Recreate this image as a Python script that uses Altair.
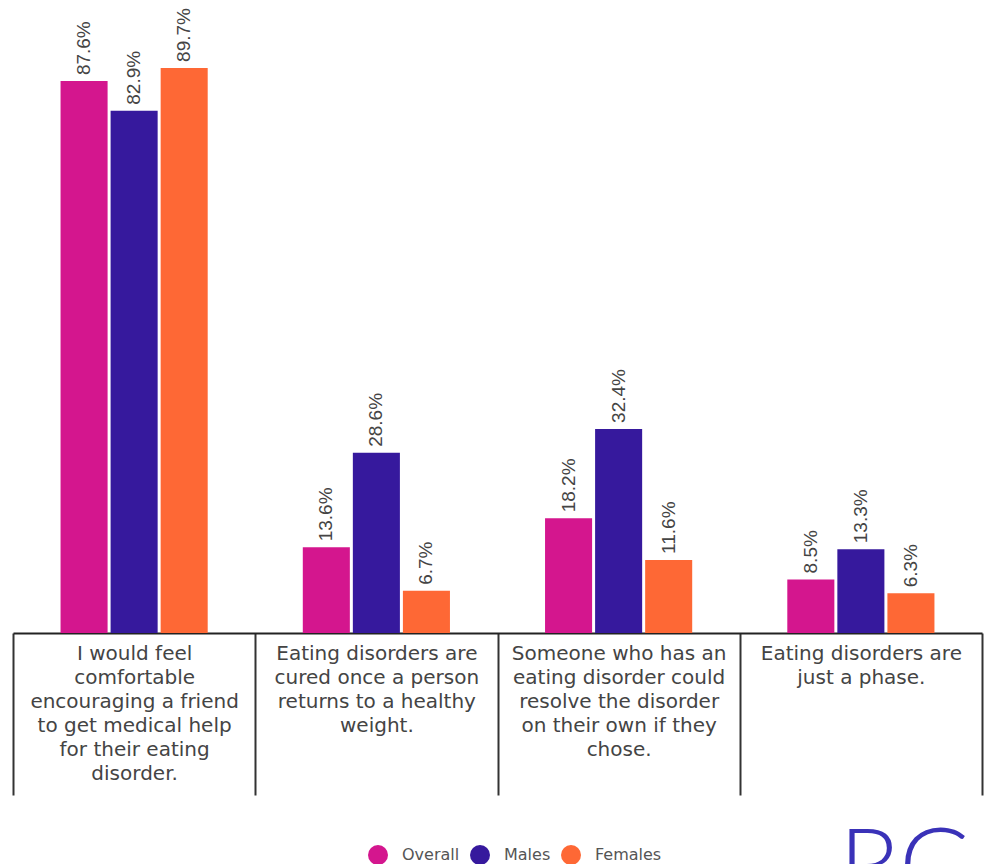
import altair as alt
import pandas as pd

categories = [
    "I would feel\ncomfortable\nencouraging a friend\nto get medical help\nfor their eating\ndisorder.",
    "Eating disorders are\ncured once a person\nreturns to a healthy\nweight.",
    "Someone who has an\neating disorder could\nresolve the disorder\non their own if they\nchose.",
    "Eating disorders are\njust a phase.",
]
series = ["Overall", "Males", "Females"]
overall = [87.6, 13.6, 18.2, 8.5]
males = [82.9, 28.6, 32.4, 13.3]
females = [89.7, 6.7, 11.6, 6.3]
colors = ["#D4168E", "#36199D", "#FE6835"]

rows = []
for i, c in enumerate(categories):
    for s, vals in zip(series, [overall, males, females]):
        rows.append({"category": c, "group": s, "value": vals[i],
                     "label": f"{vals[i]:.1f}%"})
df = pd.DataFrame(rows)

x = alt.X(
    "category:N",
    sort=categories,
    scale=alt.Scale(paddingInner=0, paddingOuter=0),
    axis=alt.Axis(
        title=None,
        labelExpr="split(datum.label, '\\n')",
        labelAngle=0,
        labelFont="DejaVu Sans",
        labelFontSize=20,
        labelColor="#444444",
        labelLineHeight=24,
        labelBaseline="top",
        labelLimit=0,
        labelPadding=-152,
        tickBand="extent",
        tickSize=162,
        tickWidth=2,
        tickColor="#333333",
        domainColor="#222222",
        domainWidth=2,
    ),
)
xoff = alt.XOffset("group:N", sort=series,
                   scale=alt.Scale(paddingInner=0.06, paddingOuter=0.95))
y = alt.Y("value:Q", scale=alt.Scale(domain=[0, 100]), axis=None)

bars = alt.Chart(df).mark_bar().encode(
    x=x, xOffset=xoff, y=y,
    color=alt.Color(
        "group:N", sort=series,
        scale=alt.Scale(domain=series, range=colors),
        legend=alt.Legend(
            title=None, orient="none", direction="horizontal",
            legendX=355, legendY=842,
            symbolType="circle", symbolSize=400, symbolStrokeWidth=0,
            labelFont="DejaVu Sans", labelFontSize=16, labelColor="#555555",
            labelOffset=14, columnPadding=10,
        ),
    ),
)

texts = alt.Chart(df).mark_text(
    angle=270, align="left", baseline="middle", dx=6,
    font="Liberation Sans", fontSize=19, color="#444444",
).encode(x=x, xOffset=xoff, y=y, text="label:N")

logo = alt.Chart(pd.DataFrame({"t": ["RG"]})).mark_text(
    align="left", baseline="top", font="Lato", fontWeight=300,
    fontSize=100, color="#3A32B8",
).encode(x=alt.value(826), y=alt.value(818), text="t:N")

chart = alt.layer(bars, texts, logo).properties(
    width=969, height=630,
    padding={"left": 13, "top": 3, "right": 4, "bottom": 231},
    autosize=alt.AutoSizeParams(type="none"),
).configure_view(stroke=None)

chart.save("out.html", embed_options={"renderer": "svg", "actions": False})
